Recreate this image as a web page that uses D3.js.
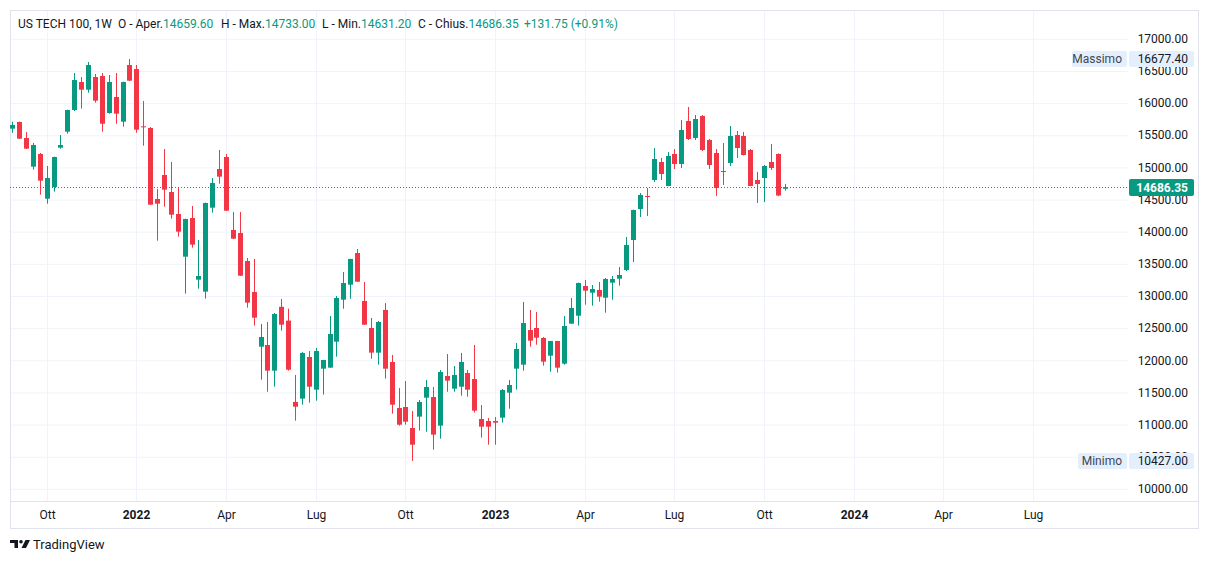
<!DOCTYPE html>
<html>
<head>
<meta charset="utf-8">
<script src="https://cdn.jsdelivr.net/npm/d3@7"></script>
<style>
  body { margin: 0; background: #fff; }
  text { font-family: Roboto, "Noto Sans", sans-serif; }
</style>
</head>
<body>
<div id="chart"></div>
<script>
// weekly candles, first bar = week of 30 Aug 2021
const startWeek = "2021-08-30";

const openV = [15595, 15698, 15449, 15004, 15201, 14506, 14687, 15299, 15548, 15885,
  16320, 16201, 16398, 16414, 15838, 16087, 15703, 16585, 16522, 15631,
  15605, 14501, 14874, 14610, 14268, 13604, 14205, 13246, 13060, 14366,
  14967, 15154, 14019, 13972, 13537, 13054, 12204, 12230, 11831, 12824,
  12609, 11344, 11396, 12044, 11536, 11862, 11878, 12282, 12935, 13168,
  13661, 12914, 12495, 12111, 12775, 11966, 11250, 11266, 10939, 11116,
  11411, 11421, 10976, 11748, 11551, 11582, 11795, 11701, 11079, 11048,
  11048, 11100, 11489, 11862, 11924, 12463, 12495, 12339, 12064, 12292,
  11940, 12562, 12686, 13148, 13044, 13086, 12966, 13200, 13262, 13397,
  13863, 14345, 14548, 14796, 15076, 14703, 15201, 15045, 15714, 15450,
  15792, 15418, 15216, 14936, 15061, 15496, 15481, 15263, 14796, 14827,
  15076, 15201, 14659.6];
const highV = [15703, 15705, 15543, 15372, 15216, 15014, 15160, 15496, 15890, 16460,
  16398, 16631, 16445, 16460, 16429, 16460, 16325, 16677.4, 16585, 16025,
  15620, 14656, 15278, 15076, 14677, 14195, 14392, 13863, 14445, 14827,
  15263, 15201, 14299, 14299, 13583, 13568, 12557, 12588, 12728, 12946,
  12795, 11764, 12121, 12137, 12184, 12000, 12681, 12992, 13365, 13572,
  13723, 13210, 12650, 12603, 12883, 12075, 11561, 11670, 11204, 11375,
  11686, 11577, 11841, 12090, 11904, 12106, 11841, 12230, 11297, 11095,
  11110, 11546, 11686, 12261, 12899, 12775, 12743, 12355, 12295, 12295,
  12681, 12961, 13200, 13241, 13163, 13210, 13272, 13303, 13443, 13910,
  14335, 14594, 14672, 15294, 15139, 15232, 15278, 15729, 15932, 15807,
  15807, 15434, 15278, 15372, 15636, 15558, 15543, 15278, 14921, 15030,
  15356, 15210, 14733];
const lowV = [15532, 15435, 15280, 14957, 14568, 14428, 14615, 15284, 15517, 15869,
  15906, 16154, 15999, 15548, 15828, 15672, 15626, 16335, 15532, 15330,
  14410, 13853, 14382, 14195, 13915, 13029, 13744, 13106, 12951, 14288,
  14739, 14315, 13880, 13305, 12811, 12531, 11691, 11504, 11582, 12453,
  11831, 11053, 11302, 11333, 11364, 11458, 11875, 12049, 12795, 12951,
  13212, 12543, 12018, 11924, 11707, 11162, 10976, 10991, 10427, 10898,
  10882, 10602, 10773, 11504, 11504, 11442, 11427, 11178, 10789, 10680,
  10680, 11022, 11240, 11536, 11831, 12204, 12235, 11909, 11815, 11800,
  11924, 12560, 12531, 12857, 12842, 12904, 12733, 12935, 13153, 13381,
  13521, 14221, 14236, 14765, 14796, 14700, 14967, 14983, 15418, 15418,
  15247, 14967, 14548, 14719, 15014, 15139, 15180, 14700, 14439, 14454,
  14952, 14545, 14631.2];
const closeV = [15652, 15439, 15284, 15341, 14786, 14827, 15154, 15341, 15885, 16351,
  16201, 16585, 16030, 15672, 16320, 15828, 16320, 16341, 15579, 15620,
  14413, 14428, 14646, 14257, 13993, 14190, 13791, 13303, 14439, 14750,
  14848, 14319, 13884, 13308, 12889, 12655, 12355, 11831, 12712, 12546,
  11846, 11271, 12106, 11582, 12137, 11997, 12401, 12961, 13194, 13568,
  13215, 12546, 12111, 12588, 11862, 11302, 10991, 11038, 10680, 11344,
  11577, 10836, 11810, 11676, 11764, 11966, 11536, 11209, 10960, 10960,
  11022, 11530, 11608, 12168, 12572, 12298, 12344, 11971, 12292, 11878,
  12526, 12806, 13194, 13075, 13101, 12982, 13257, 13257, 13319, 13785,
  14330, 14563, 14532, 15123, 14890, 15170, 15045, 15574, 15434, 15745,
  15263, 15030, 14672, 14926, 15481, 15294, 15185, 14703, 14734, 15014,
  14983, 14554.6, 14686.35];

const priceTicks = [10000, 10500, 11000, 11500, 12000, 12500, 13000, 13500,
  14000, 14500, 15000, 15500, 16000, 16500, 17000];
const timeTickDates = ["2021-10-04", "2022-01-03", "2022-04-04", "2022-07-04",
  "2022-10-03", "2023-01-02", "2023-04-03", "2023-07-03", "2023-10-02",
  "2024-01-01", "2024-04-01", "2024-07-01"];
const timeTickLabels = ["Ott", "2022", "Apr", "Lug", "Ott", "2023", "Apr", "Lug",
  "Ott", "2024", "Apr", "Lug"];

const maxLabel = { name: "Massimo", value: 16677.40 };
const minLabel = { name: "Minimo", value: 10427.00 };
const last = { o: 14659.60, h: 14733.00, l: 14631.20, c: 14686.35, ch: 131.75, pct: 0.91 };

const W = 1209, H = 564;
const plot = { left: 10, right: 1128, top: 10, bottom: 501 };
const frameRight = 1198, frameBottom = 528;

const green = "#089981", red = "#f23645";
const gridColor = "#f0f3fa", lineColor = "#e0e3eb", textColor = "#131722";

const parse = d3.utcParse("%Y-%m-%d");
const t0 = parse(startWeek);
const weekIndex = s => Math.round((parse(s) - t0) / (7 * 864e5));

const data = openV.map((o, i) => ({ i: i, o: o, h: highV[i], l: lowV[i], c: closeV[i] }));

const x = d3.scaleLinear().domain([0, 112]).range([12.7, 785.3]);
const y = d3.scaleLinear().domain([10000, 17000]).range([488.4, 38.3]);

const svg = d3.select("#chart").append("svg")
    .attr("width", W)
    .attr("height", H);

svg.append("rect").attr("width", W).attr("height", H).attr("fill", "#fff");

svg.append("clipPath").attr("id", "clip")
  .append("rect")
    .attr("x", plot.left).attr("y", plot.top)
    .attr("width", plot.right - plot.left).attr("height", plot.bottom - plot.top);

// horizontal grid + price labels
const yAxis = svg.append("g")
    .attr("transform", `translate(${plot.left},0)`)
    .call(d3.axisRight(y).tickValues(priceTicks).tickSize(plot.right - plot.left)
      .tickFormat(d3.format(".2f")));
yAxis.select(".domain").remove();
yAxis.selectAll(".tick line").attr("stroke", gridColor)
    .attr("transform", "translate(0,0.5)");
yAxis.selectAll(".tick text")
    .attr("x", 1188 - plot.left)
    .attr("dy", "0.35em")
    .attr("text-anchor", "end")
    .attr("fill", textColor)
    .style("font-size", "12px");

// vertical grid + time labels
const tickIdx = timeTickDates.map(weekIndex);
const xAxis = svg.append("g")
    .attr("transform", `translate(0,${plot.bottom})`)
    .call(d3.axisBottom(x).tickValues(tickIdx).tickSize(-(plot.bottom - plot.top))
      .tickFormat((d, k) => timeTickLabels[k]));
xAxis.select(".domain").remove();
xAxis.selectAll(".tick").attr("transform", d => `translate(${Math.floor(x(d)) + 0.5},0)`);
xAxis.selectAll(".tick line").attr("stroke", gridColor);
xAxis.selectAll(".tick text")
    .attr("y", 14)
    .attr("dy", "0.35em")
    .attr("fill", textColor)
    .style("font-size", "12px")
    .style("font-weight", (d, k) => /^\d{4}$/.test(timeTickLabels[k]) ? "bold" : "normal");

// frame and time-axis separator
svg.append("rect")
    .attr("x", plot.left + 0.5).attr("y", plot.top + 0.5)
    .attr("width", frameRight - plot.left).attr("height", frameBottom - plot.top)
    .attr("fill", "none").attr("stroke", lineColor);
svg.append("line")
    .attr("x1", plot.left).attr("x2", frameRight)
    .attr("y1", plot.bottom + 0.5).attr("y2", plot.bottom + 0.5)
    .attr("stroke", lineColor);

// candles
const candles = svg.append("g").attr("clip-path", "url(#clip)")
  .selectAll("g").data(data).enter().append("g")
    .attr("fill", d => d.c >= d.o ? green : red)
    .attr("stroke", d => d.c >= d.o ? green : red);

candles.append("line")
    .attr("x1", d => Math.floor(x(d.i)) + 0.5)
    .attr("x2", d => Math.floor(x(d.i)) + 0.5)
    .attr("y1", d => y(d.h))
    .attr("y2", d => y(d.l))
    .attr("stroke-width", 1);

candles.append("rect")
    .attr("stroke", "none")
    .attr("x", d => Math.floor(x(d.i)) - 2)
    .attr("width", 5)
    .attr("y", d => y(Math.max(d.o, d.c)))
    .attr("height", d => Math.max(1, y(Math.min(d.o, d.c)) - y(Math.max(d.o, d.c))));

// last price line
svg.append("line")
    .attr("x1", plot.left).attr("x2", plot.right)
    .attr("y1", Math.round(y(last.c)) + 0.5).attr("y2", Math.round(y(last.c)) + 0.5)
    .attr("stroke", green)
    .attr("stroke-dasharray", "1,2");

// high / low labels
function hlLabel(lbl, nameLeft) {
  const cy = Math.round(y(lbl.value));
  const g = svg.append("g");
  g.append("rect").attr("x", nameLeft).attr("y", cy - 8).attr("width", 1127 - nameLeft)
    .attr("height", 16).attr("rx", 2).attr("fill", "#e3effd");
  g.append("rect").attr("x", 1129).attr("y", cy - 8).attr("width", 65)
    .attr("height", 16).attr("rx", 2).attr("fill", "#e3effd");
  g.append("text").attr("x", 1122).attr("y", cy).attr("dy", "0.35em")
    .attr("text-anchor", "end").attr("fill", "#434651").style("font-size", "12px")
    .text(lbl.name);
  g.append("text").attr("x", 1188).attr("y", cy).attr("dy", "0.35em")
    .attr("text-anchor", "end").attr("fill", textColor).style("font-size", "12px")
    .text(d3.format(".2f")(lbl.value));
}
hlLabel(maxLabel, 1072);
hlLabel(minLabel, 1078);

// current price tag
const cyLast = Math.round(y(last.c));
svg.append("rect").attr("x", 1129).attr("y", cyLast - 8).attr("width", 65).attr("height", 17)
    .attr("rx", 2).attr("fill", green);
svg.append("text").attr("x", 1188).attr("y", cyLast + 0.5).attr("dy", "0.35em")
    .attr("text-anchor", "end").attr("fill", "#fff")
    .style("font-size", "12px").style("font-weight", "bold")
    .text(d3.format(".2f")(last.c));

// legend line
const f2 = d3.format(".2f");
const legend = [
  { x: 18, parts: [["US TECH 100, 1W", textColor]] },
  { x: 118, parts: [["O - Aper.", textColor], [f2(last.o), green]] },
  { x: 221, parts: [["H - Max.", textColor], [f2(last.h), green]] },
  { x: 322, parts: [["L - Min.", textColor], [f2(last.l), green]] },
  { x: 418, parts: [["C - Chius.", textColor], [f2(last.c), green]] },
  { x: 524, parts: [["+" + f2(last.ch) + " (+" + f2(last.pct) + "%)", green]] }
];
legend.forEach(item => {
  const t = svg.append("text").attr("x", item.x).attr("y", 24).attr("dy", "0.35em")
    .style("font-size", "12px");
  item.parts.forEach(p => t.append("tspan").attr("fill", p[1]).text(p[0]));
});

// TradingView mark
const logo = svg.append("g").attr("fill", textColor);
logo.append("path").attr("d", "M10,540 H18 V548 H14.5 V543 H10 Z");
logo.append("circle").attr("cx", 21).attr("cy", 541.8).attr("r", 1.8);
logo.append("path").attr("d", "M25.5,540 H30 L26,548 H21.5 Z");
svg.append("text").attr("x", 33).attr("y", 548.5)
    .attr("fill", textColor).style("font-size", "13px")
    .text("TradingView");
</script>
</body>
</html>
